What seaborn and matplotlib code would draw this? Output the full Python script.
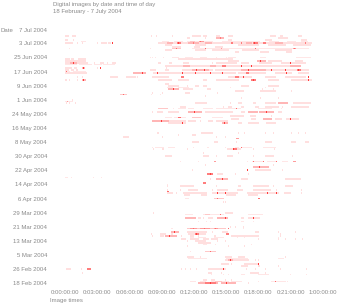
import numpy as np
import pandas as pd
import matplotlib
matplotlib.use("Agg")
import matplotlib.pyplot as plt
import seaborn as sns
from matplotlib.colors import LinearSegmentedColormap

# ---------------- data ----------------
start_date = "2004-02-18"
end_date = "2004-07-08"
bin_minutes = 5
title_line1 = "Digital images by date and time of day"
title_line2 = "18 February - 7 July 2004"
x_tick_hours = [0, 3, 6, 9, 12, 15, 18, 21, 24]
x_tick_labels = ["0:00:00:00", "0:03:00:00", "0:06:00:00", "0:09:00:00",
                 "0:12:00:00", "0:15:00:00", "0:18:00:00", "0:21:00:00",
                 "1:00:00:00"]
y_tick_every_days = 8
last_date_label = "7 Jul 2004"

# photos per day: "start-end:level" in hours of day (level 1 few .. 4 many)
marks = {
    "2004-07-07": "0.0-0.3:1 0.65-0.9:1 8.0:1 8.5:1 10.0:1 11.8-12.6:1 12.8-13.2:1 14.1-14.3:1 15.2-15.5:1 19.1-19.5:1 20.0-20.2:1 21.7-22.0:1",
    "2004-07-06": "14.1-14.7:2 14.4:3 19.8-20.7:1 11.3-11.5:1 13.0:1",
    "2004-07-05": "0.0-0.2:1 0.75:1 1.2:1 15.2-15.4:1 18.6-19.2:1 22.0-22.4:1",
    "2004-07-04": "1.5-1.8:1 9.0-9.6:1 10.2-10.9:1 11.3-13.7:1 11.6-12.0:2 12.5-12.8:3 12.6:4 14.6-15.5:1 15.3-18.1:1 19.0-19.8:1 20.7-21.4:1 21.9-22.5:1",
    "2004-07-03": "0.0-0.65:1 0.3:4 1.1:1 1.6:1 3.0:1 3.35-3.8:1 4.0-4.2:1 4.45:4 8.65-15.5:1 9.5-10.0:2 13.0-13.6:2 10.4-10.7:3 10.5:4 11.4-12.4:2 11.9:3 15.2-22.9:1 16.8-17.3:2 19.5-20.2:2 15.4-15.6:3 16.4:3 17.5-17.8:3 17.6:4 18.4-18.6:3 21.2:4 22.3:3",
    "2004-07-02": "9.3-9.9:1 12.1-13.0:1 16.1-18.0:1 18.9-20.5:1 21.2-22.8:1",
    "2004-07-01": "10.0-10.7:1 12.0-12.5:1 14.0-14.6:1",
    "2004-06-30": "0.4:1 7.9:1 10.0-10.7:2 10.3:4 11.8-15.5:1 13.0:4 14.5:3 15.2-22.6:1 17.7:4 21.2-21.4:3 21.3:4",
    "2004-06-29": "9.3-9.95:1 12.1-13.0:1 13.7-15.2:1 16.5-18.0:1 19.5-21.0:1",
    "2004-06-28": "15.8-16.1:1 18.2-18.9:1 20.6-21.0:1",
    "2004-06-25": "7.9:1 8.1:1 8.4:1 9.1:1 10.0-10.5:1 11.2-11.8:1 12.6-13.2:1 14.1:1 15.0:1 15.2-15.8:1 18.2-18.6:1 21.5-22.8:1",
    "2004-06-24": "0.0-0.1:1 0.2-0.4:1 0.6-0.75:1 1.2-1.85:1 10.5-15.5:1",
    "2004-06-23": "0.0-1.7:1 0.3-0.85:1 1.6-1.95:1 15.2-16.1:1 17.8-18.6:2 18.2:4 18.9-20.1:1 21.4-22.1:1",
    "2004-06-22": "0.0-2.1:1 0.5-1.0:2 0.3:4 0.75:4 2.7:1 3.25-3.5:1 3.9:1 4.3-4.65:1 8.65-8.85:1 9.7-9.9:1 11.0-11.4:1 13.7:1 14.1-15.5:1 15.2-15.9:1 16.4-17.0:1 18.1-19.2:1 20.1-22.3:1 20.9:4",
    "2004-06-21": "0.0-1.0:1 1.3-2.4:1 2.7-3.3:1 3.5-4.6:1",
    "2004-06-20": "9.3-15.5:1 11.0-11.5:2 13.5-14.0:2 14.6-14.9:3 15.6-21.4:1 16.4:4 17.3:4 20.9-21.8:2",
    "2004-06-19": "0.0-0.55:1 0.8-1.0:1 1.6-1.75:2 1.7:4 3.0:1 3.25:4 9.4:1",
    "2004-06-18": "0.0-0.3:1 0.55-0.75:1 1.0-1.2:1 7.9-8.4:1 9.3-9.6:1 10.9-13.7:1 11.8-13.3:2 12.2:4 12.9:4 13.95-15.5:1 15.4-22.6:1 16.4-18.6:2 17.0:4 17.9:4 19.2:4 20.5:4 21.6-21.9:3 21.7:4",
    "2004-06-17": "0.0-0.45:1 0.05:4 0.75-1.9:1",
    "2004-06-16": "0.0-2.0:1 6.3-7.45:2 7.2:4 8.2-15.5:1 8.55:4 9.95:4 10.9:4 12.1:4 13.5:4 14.6:4 15.2-15.8:1 16.1-18.6:1 16.8-17.0:3 19.5-21.0:1 20.6:4 21.7-22.6:1",
    "2004-06-14": "1.1:1 1.6:1 4.2-4.85:1 5.7-6.5:1 6.7:1 8.1-9.6:1 10.8-11.0:3 15.2-17.3:1 15.8-16.1:3 16.6:4 18.6-19.5:1 20.5-22.3:1 22.6:4",
    "2004-06-12": "0.0-0.1:1 0.4:1 1.1:1 1.6-1.8:2 1.7:4 8.65-9.95:1 10.5-11.4:1 12.8-13.2:1 14.1-15.3:1 15.3-16.1:1 17.3-17.7:3 17.5:4 18.9-19.8:1 21.0-22.9:1 22.6:4",
    "2004-06-10": "9.3-9.6:1",
    "2004-06-09": "9.6-10.5:1 11.3:1 12.1-12.4:1 12.8-13.2:1 16.4-17.0:1 18.9-19.8:1",
    "2004-06-08": "9.5-10.0:1 10.5-11.4:1 13.2:1 15.35:1 18.6:1",
    "2004-06-07": "9.6-10.5:2 10.05:4 11.0-11.8:1 13.2-13.5:1 18.3:1 19.3:1",
    "2004-06-06": "15.8-16.6:1 18.2-19.5:1 21.0:1",
    "2004-06-05": "8.1:1 9.0:1 11.2-11.6:1 13.2:1 14.2:1",
    "2004-06-04": "5.1-5.7:2 5.4:4 8.0:1 8.8:1",
    "2004-06-03": "13.0:1",
    "2004-06-02": "16.4:1 18.2:1 19.8:1",
    "2004-06-01": "0.65:1",
    "2004-05-31": "0.0-0.7:1 0.2:3",
    "2004-05-30": "0.1:1 0.4:1 0.9:1 12.1-13.2:1 15.35:1 16.1-16.4:1 17.5-17.7:1 18.6-19.5:1 19.8-20.7:2 20.3:4 21.2-22.8:1",
    "2004-05-28": "10.7-11.2:1 14.7:1 15.2-15.4:1 16.3-16.6:1 17.7-18.0:1 18.6-19.8:1 20.2:1 21.0-22.6:1",
    "2004-05-27": "8.65-9.5:2 9.2:4 10.05:1 10.5-11.2:1 11.4-11.9:1 12.8-13.7:1 14.1-15.2:1 15.2-16.3:1 15.9:4 18.0-19.2:1 20.1:1",
    "2004-05-25": "8.1:1 8.6-9.0:1 9.6-10.5:1 11.4-12.7:2 12.0:4 13.0-15.5:1 16.4-16.7:1 17.0-17.8:2 18.1-19.3:2 18.7:4 19.8-20.1:1",
    "2004-05-23": "15.3-16.6:1 17.2-17.7:1 19.2:1",
    "2004-05-22": "9.3-9.8:1 10.2-11.2:1 10.5-10.7:4 11.8-12.6:2 13.7-14.6:1",
    "2004-05-21": "15.4-16.1:1 17.3-17.7:1 18.4-19.2:2 19.5-20.1:1 20.6-21.7:1 20.9:4",
    "2004-05-20": "8.1-9.6:2 8.9:4 8.65-11.2:1 11.4-12.1:1 12.6:1 13.3-13.7:1 14.1-15.1:1",
    "2004-05-19": "9.6-11.2:1 10.9:4 12.3:1 13.2:1 14.6-15.1:2 14.8:4 16.1-16.4:1 17.0-18.0:1 18.7-19.6:1",
    "2004-05-13": "8.55:1 8.65:1 12.7-13.7:1 16.1:1 16.7:1 18.6:1 19.3:1 21.0:1 21.7:1 22.3:1",
    "2004-05-12": "10.5:1 11.8-12.1:1",
    "2004-05-11": "5.4-5.95:1 9.0:1 14.1:1 14.9:1",
    "2004-05-10": "15.9-16.1:3",
    "2004-05-08": "11.8-12.4:1 13.8-14.2:1 15.9:1 18.6-19.2:1 21.0-21.4:1 22.3-22.6:1",
    "2004-05-05": "8.1:1 8.4-9.1:1 9.6-10.2:1 11.9:1 13.2-13.3:1 14.9:1 15.8-16.1:1 16.4-17.3:1 16.4:4 18.4-19.5:1",
    "2004-05-04": "8.2:1 9.0-9.1:1 11.3:1 15.1-16.3:1 15.6-15.9:3 15.7:4 17.5:1 19.4:1",
    "2004-05-02": "12.8:1 16.1:1",
    "2004-04-30": "9.3-9.95:1 12.8-13.3:1 14.1:1 15.1-15.6:1 17.5:1 18.6-19.3:1 21.1:1",
    "2004-04-27": "10.7:1 12.4:1 13.8-14.0:3 13.9:4 16.9:1 17.4-18.4:1 17.5:4 18.4:4 18.8-19.7:1 19.7:4 20.2-20.7:1 21.2-21.4:3",
    "2004-04-25": "13.0:1 13.95:1 19.3:1",
    "2004-04-24": "17.5-18.9:2 18.1:4",
    "2004-04-22": "11.8:1 16.9:4 17.7-19.1:1 20.2:1",
    "2004-04-20": "13.2-13.7:3 13.5:4 14.2-14.6:1 15.8:1 17.0:1 17.9:1",
    "2004-04-18": "0.0-0.2:1 0.6:1 1.2:1 1.9:1 2.6:1 3.3:1",
    "2004-04-17": "13.5:1 14.1-15.1:2 14.6:4 15.6:1 16.3-16.9:1 20.5-21.9:1",
    "2004-04-15": "12.8-13.0:3",
    "2004-04-14": "9.5:1",
    "2004-04-13": "9.5:1 10.7-11.9:1 14.1:1 16.1-16.3:1 17.5-18.9:1 19.35:1 20.5-21.1:1",
    "2004-04-11": "9.5:1 10.7:1 11.4-12.3:1 13.7:1 14.2-15.1:1 16.0-16.5:1 17.5-19.1:1 19.7:1 20.3:1 22.0:1",
    "2004-04-10": "9.5-9.6:4",
    "2004-04-09": "9.5-10.0:1 10.3:1 11.0-13.2:1 12.3:4 13.7-16.0:1 14.2:4 14.9:4 16.9-19.8:1 17.9:4 18.8:4 19.7:4 20.3-20.9:1 22.0:1",
    "2004-04-08": "11.1-11.5:1 12.7-13.1:1 15.0-15.8:1 17.0-17.8:1",
    "2004-04-06": "11.2-11.4:1 13.8-14.7:2 14.2:4 17.9-18.1:4",
    "2004-04-04": "14.7:1 14.95:1",
    "2004-03-29": "8.2:1 14.9-15.5:1",
    "2004-03-28": "11.2-11.8:1 12.8-14.7:1 13.0-13.4:2 13.2:4 14.4:4 16.3:1 17.0-18.3:1",
    "2004-03-26": "11.2-12.1:2 11.6:4 12.4-12.6:1 12.8:1 13.3-13.7:1 14.2-15.1:2 14.9:4 15.6:1 16.3-16.6:1 17.0-18.1:1 17.5:4",
    "2004-03-24": "11.6:1 12.4:1 13.1:1 13.5:1 16.4-16.6:1 17.5:1",
    "2004-03-21": "15.35:1 15.8:1 16.3:1 16.6:1",
    "2004-03-20": "9.8-10.0:1 11.3-14.9:2 11.6-12.2:3 12.6-13.4:3 13.8-14.2:3 11.9:4 12.9:4 14.0:4 15.2:4 15.6:1 16.6:1",
    "2004-03-18": "9.8-10.5:2 10.2:4 11.3-13.2:1 13.7:1 14.6-15.1:1 17.7-18.0:1 19.8:1 21.4:1",
    "2004-03-17": "8.0:1 8.8-9.3:1 9.8-10.0:1 11.4-13.0:1 12.1-12.4:3 12.2:4 15.0-15.2:3 20.0:1",
    "2004-03-16": "8.1:1 8.8-9.1:1 9.3-10.3:2 9.7:4 10.8:1 11.6-11.9:1 12.4:1 13.8-14.0:1 15.4-18.0:1 20.0:1",
    "2004-03-15": "11.6-11.9:1 12.4-13.0:1 13.8-14.7:1 16.0:1 16.7:1 19.8:1",
    "2004-03-14": "10.8-11.2:1 11.6-12.4:1 12.8-13.3:1 13.6-14.2:1 18.0:1 19.8:1 20.5:1 21.4:1 22.1:1",
    "2004-03-13": "11.3:1 12.1-13.0:1 14.2:1 14.9:1",
    "2004-03-12": "12.4-13.5:1",
    "2004-03-11": "12.8-13.1:1 14.0:1 17.3:1",
    "2004-03-10": "11.3:1 15.2:1 16.7:1",
    "2004-03-07": "11.7:1 13.0-14.0:2 13.5:4",
    "2004-03-04": "11.3-11.9:1 12.6:1 14.9-15.4:1 16.1-16.7:1 19.6:1 20.5:1",
    "2004-03-03": "11.4-13.2:1 15.0-16.9:1 19.8-20.3:1",
    "2004-03-02": "14.9-17.0:1 15.2-15.5:2 15.3:4 17.7:1 18.0:1",
    "2004-02-29": "14.5-15.2:1 15.4:1 16.7-18.0:1 18.0:4",
    "2004-02-28": "16.3-16.9:1 17.9-18.1:1 19.8:1",
    "2004-02-26": "0.1-0.5:1 1.5:1 2.1-2.3:3 10.8:1 11.2:1 11.7:1 12.2:1 13.3-14.9:1 14.7:4 16.3:1 16.8:1 17.7:1 18.6:1 20.0:1 21.9:1 22.4:1",
    "2004-02-24": "1.6:1 13.3-13.6:1 14.5:1 17.2-18.0:1 18.6:1 21.9:1",
    "2004-02-23": "13.6:1 14.7:1 15.2:1 16.3-16.7:1 18.0-18.9:1 20.9:1 22.4:1",
    "2004-02-20": "12.8-13.1:1 13.6-13.9:1 14.9:1 15.4:1",
    "2004-02-19": "11.7-12.1:1 12.6-13.0:1 13.6-15.2:1 14.0-14.5:2 15.4-16.4:1 15.6:4 18.0:1 19.2-20.5:1 19.5:4 20.7:1",
    "2004-02-18": "12.4-14.2:2 13.0-14.0:3 13.5:4 14.5-15.8:2 15.0:4 16.3:1 17.0:1",
}

# ---------------- build grid ----------------
dates = pd.date_range(start_date, end_date, freq="D")
n_bins = 24 * 60 // bin_minutes
per_hour = 60 // bin_minutes
grid = np.zeros((len(dates), n_bins))
for ds, spec in marks.items():
    r = dates.get_loc(pd.Timestamp(ds))
    for tok in spec.split():
        span, lvl = tok.split(":")
        if "-" in span:
            a, b = (float(v) for v in span.split("-"))
        else:
            a = b = float(span)
        i0 = max(0, int(round(a * per_hour)))
        i1 = min(n_bins - 1, int(round(b * per_hour)))
        grid[r, i0:i1 + 1] = np.maximum(grid[r, i0:i1 + 1], int(lvl))

df = pd.DataFrame(grid[::-1], index=dates[::-1], columns=range(n_bins))

# ---------------- draw ----------------
sns.set_style("white")
plt.rcParams["font.family"] = ["Liberation Sans", "DejaVu Sans"]
grey = "#8a8a8a"
fs = 4.3

cmap = LinearSegmentedColormap.from_list(
    "wr", [(0.0, "#ffffff"), (0.25, "#ffd6d6"), (0.5, "#ffa0a0"),
           (0.75, "#ff5555"), (1.0, "#ff0000")])
fig = plt.figure(figsize=(3.38, 3.05), dpi=100)
ax = fig.add_axes([0.1923, 0.0682, 0.7633, 0.8216])
sns.heatmap(df, ax=ax, cmap=cmap, vmin=0, vmax=4, cbar=False,
            xticklabels=False, yticklabels=False, linewidths=0)

# thin white separation between day rows (rows read as thin dashes)
nrows = len(dates)
ax.hlines(np.arange(nrows + 1), 0, n_bins, colors="white", linewidth=0.35)

ax.set_xticks([h * per_hour for h in x_tick_hours])
ax.set_xticklabels(x_tick_labels, fontsize=fs, color=grey)

ytick_idx = list(range(0, nrows - 4, y_tick_every_days))
ax.set_yticks([nrows - 1 - i + 0.5 for i in ytick_idx])
ax.set_yticklabels([f"{dates[i].day} {dates[i].strftime('%b %Y')}" for i in ytick_idx],
                   fontsize=fs, color=grey, rotation=0)
ax.tick_params(axis="y", length=0, pad=13)
ax.tick_params(axis="x", length=0, pad=4, rotation=0)
ax.set_xlabel("")
ax.set_ylabel("")
ax.set_xlim(0, n_bins)
ax.set_ylim(nrows, 0)
for s in ax.spines.values():
    s.set_visible(False)

fig.text(47 / 338, 1 - 30.5 / 305, last_date_label, fontsize=fs, color=grey,
         ha="right", va="center")
fig.text(0.5 / 338, 1 - 30.5 / 305, "Date", fontsize=fs, color=grey,
         ha="left", va="center")
fig.text(50 / 338, 1 - 300.5 / 305, "Image times", fontsize=fs, color=grey,
         ha="left", va="center")
fig.text(52.7 / 338, 1 - 4.5 / 305, title_line1, fontsize=fs, color=grey,
         ha="left", va="center")
fig.text(52.7 / 338, 1 - 11.5 / 305, title_line2, fontsize=fs, color=grey,
         ha="left", va="center")

fig.savefig("out.png", dpi=100, facecolor="white")
